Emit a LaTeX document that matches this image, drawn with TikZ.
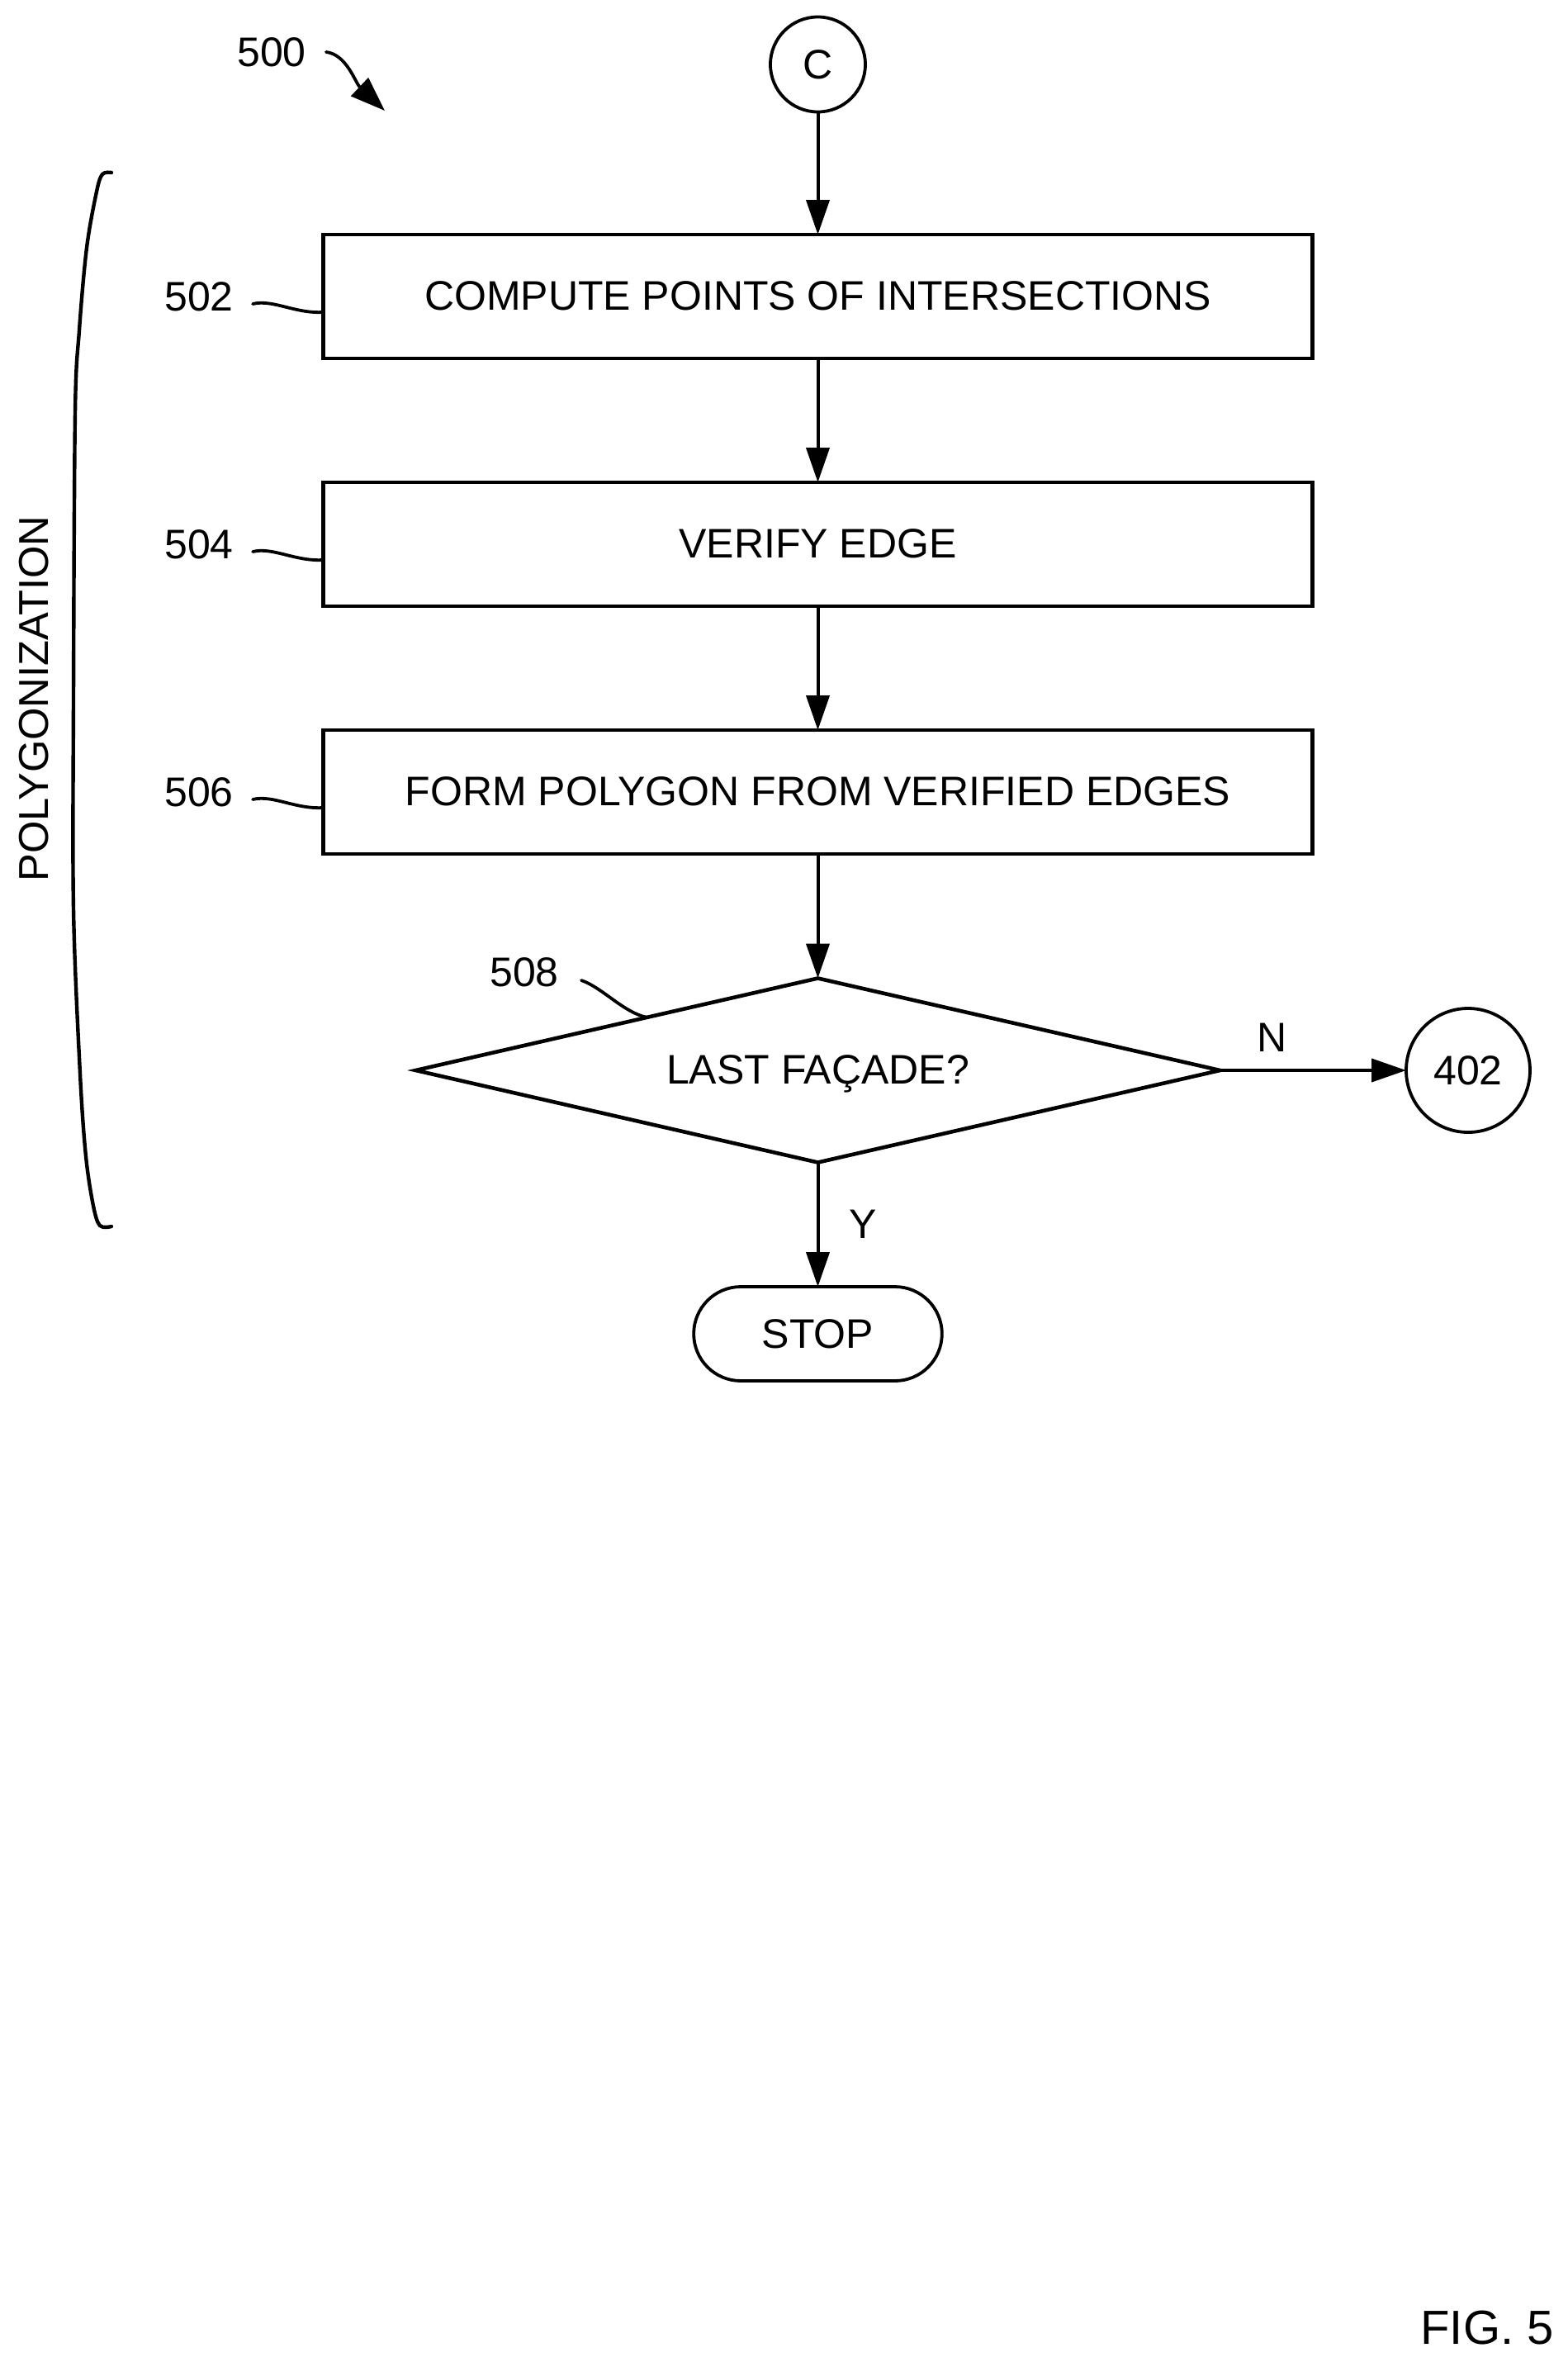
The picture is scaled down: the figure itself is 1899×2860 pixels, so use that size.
\documentclass[tikz,border=0pt]{standalone}
\usepackage{fontspec}
\setmainfont{Liberation Sans}
\usetikzlibrary{arrows.meta,calc,shapes.geometric,shapes.misc}
\newcommand{\figFont}{\fontsize{25}{30}\selectfont}
\newcommand{\stepBox}[4]{%%
  \node[boxStyle] (#1) at (\xmid,#2) {#3};
  \node[labelStyle] (#1Label) at (241,#2) {#4};
  \draw[leaderStyle] (#1Label.east) ++(23,9) .. controls +(24,-6) and +(-34,2) .. ([yshift=-9.5pt]#1.west);
}

\begin{document}
\begin{tikzpicture}[%%
  x=0.5pt,y=-0.5pt,
  boxStyle/.style={rectangle,draw,line width=2.3pt,outer sep=0pt,minimum width=599pt,minimum height=75pt,text depth=1pt,font=\figFont},%%
  circleStyle/.style={circle,draw,line width=1.9pt,outer sep=0pt,inner sep=0pt,font=\figFont},%%
  labelStyle/.style={inner sep=0pt,font=\figFont},%%
  arrowStyle/.style={-{Triangle[length=21pt,width=14pt]},line width=2pt},%%
  leaderStyle/.style={line width=1.9pt,line cap=round}
]
%%
%%
\pgfmathsetmacro{\xmid}{990.5}
\useasboundingbox (0,0) rectangle (1899,2860);
%%
%% The off-page connectors and the steps.
\node[circleStyle,minimum size=57.5pt] (startC) at (\xmid,78) {C};
\stepBox{compute}{359}{COMPUTE POINTS OF INTERSECTIONS}{502}
\stepBox{verify}{659}{VERIFY EDGE}{504}
\stepBox{form}{959}{FORM POLYGON FROM VERIFIED EDGES}{506}
\node[diamond,draw,line width=2.3pt,outer sep=0pt,inner sep=0pt,aspect=4.37,minimum width=487pt,minimum height=111.5pt,text depth=1pt,font=\figFont] (lastFacade) at (\xmid,1296) {LAST FAÇADE?};
\node[circleStyle,minimum size=75pt] (goBack) at (1778,1296) {402};
\node[rounded rectangle,draw,line width=1.9pt,outer sep=0pt,minimum width=157pt,minimum height=57pt,font=\figFont] (stopNode) at (\xmid,1615) {STOP};
%%
%% The arrows.
\draw[arrowStyle] (startC) -- (compute);
\draw[arrowStyle] (compute) -- (verify);
\draw[arrowStyle] (verify) -- (form);
\draw[arrowStyle] (form) -- (lastFacade);
\draw[arrowStyle] (lastFacade.east) -- (goBack.west);
\draw[arrowStyle] (lastFacade.south) -- (stopNode.north);
\node[labelStyle] (noLabel) at (1541,1256) {N};
\node[labelStyle] (yesLabel) at (1045,1482) {Y};
%%
%% The reference numerals.
\node[labelStyle] (figNumber) at (329,63) {500};
\coordinate (figTip) at (466,134);
\draw[leaderStyle,-{Triangle[length=21pt,width=15pt]}] (395,63) .. controls (420,66) and (430,100) .. (figTip);
\node[labelStyle] (decisionLabel) at (635,1177) {508};
\draw[leaderStyle] (704,1187) .. controls (730,1196) and (755,1226) .. ($(lastFacade.west)!0.575!(lastFacade.north)$);
%%
%% The bracket.
\draw[line width=2.2pt,line cap=round] plot[smooth,tension=0.55] coordinates {(135,209) (124,211) (117,232) (105,300) (96,400) (91,500) (89,846) (89,1100) (97,1300) (104,1400) (113,1460) (121,1484) (135,1485)};
\node[labelStyle,rotate=90,font=\fontsize{25.3}{30}\selectfont] (bracketLabel) at (41,846) {POLYGONIZATION};
%%
\node[labelStyle,font=\fontsize{29}{34}\selectfont] (figCaption) at (1801,2818) {FIG. 5};
\end{tikzpicture}
\end{document}
